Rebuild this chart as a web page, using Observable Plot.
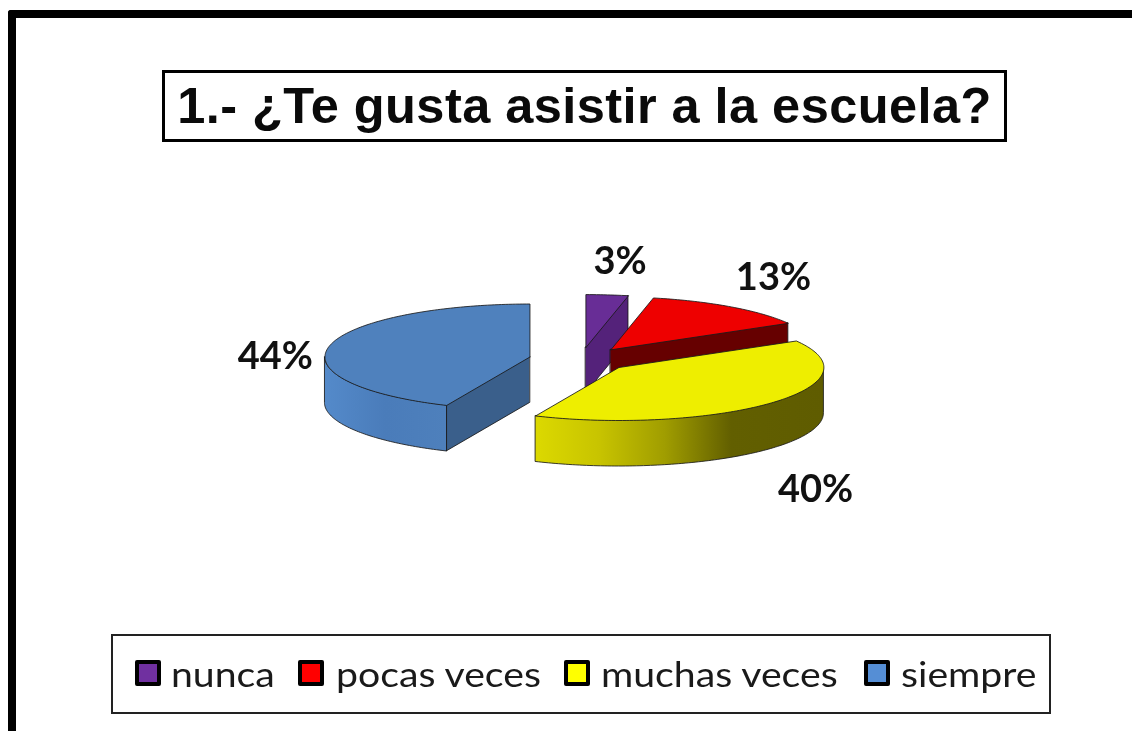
<!DOCTYPE html>
<html lang="es"><head><meta charset="utf-8">
<script src="https://cdn.jsdelivr.net/npm/d3@7"></script>
<script src="https://cdn.jsdelivr.net/npm/@observablehq/plot@0.6"></script>
<style>
html,body{margin:0;padding:0;background:#fff;width:1132px;height:731px;overflow:hidden}
#page{position:relative;width:1132px;height:731px;filter:blur(.55px)}
#frame{position:absolute;left:8px;top:10px;width:1130px;height:730px;border-left:8px solid #000;border-top:8px solid #000;border-top-left-radius:3px}
#title{position:absolute;left:162px;top:70px;width:839px;height:66px;border:3px solid #000;font:bold 50.5px "Liberation Sans",Arial,sans-serif;letter-spacing:.45px;line-height:65px;text-align:center;white-space:nowrap;color:#0a0a0a}
#legend{position:absolute;left:111px;top:634px;width:936px;height:76px;border:2px solid #222}
.sw{position:absolute;top:660px;width:18px;height:18px;border:4px solid #000;border-radius:2px}
.lb{position:absolute;top:650px;font:400 35px Lato,sans-serif;line-height:46px;color:#1a1a1a;white-space:nowrap;transform:scaleX(1.12);transform-origin:0 50%}
#chart{position:absolute;left:0;top:0}
</style></head><body>
<div id="page"><div id="frame"></div><div id="chart"></div>
<div id="title">1.- ¿Te gusta asistir a la escuela?</div><div id="legend"></div></div>
<script>
const categories = ["nunca","pocas veces","muchas veces","siempre"];
const shares = [3.33,13.33,40,43.34];
const labels = ["3%","13%","40%","44%"];
const faceColors = ["#682d96","#ee0000","#eeee00","#4f81bd"];
const legendColors = ["#7030a0","#ff0000","#ffff00","#558ed5"];
const edgeColors = ["#54227a","#660000","#6a6800","#3a5f8b"];
const labelReach = [[1.6,1.63],[1.35,1.685],[1.29,3.46],[1.27,0.05]];
const legendSwatchX = [135,298,564,864];
const legendTextX = [171,336,601,901];

const pie = {cx:580,cy:359,rx:205,ry:53,depth:46/53,ex:0.252,ey:0.226};
const slices = d3.pie().sort(null)(shares).map((s,i)=>{
  const mid=(s.startAngle+s.endAngle)/2;
  return {i,name:categories[i],a0:s.startAngle,a1:s.endAngle,mid,ox:pie.ex*Math.sin(mid),oy:pie.ey*Math.cos(mid)};
});
const arc=(s,a0,a1)=>{
  const n=Math.max(2,Math.ceil((a1-a0)/(Math.PI/180)));
  return d3.range(n+1).map(k=>{const a=a0+(a1-a0)*k/n;
    return {name:s.name,x:s.ox+Math.sin(a),y:s.oy+Math.cos(a)};});
};
const marks=[];
marks.push(()=>{
  const defs=d3.create("svg:defs");
  const grad=(id,stops)=>{const g=defs.append("linearGradient").attr("id",id);
    stops.forEach(([o,c])=>g.append("stop").attr("offset",o).attr("stop-color",c));};
  grad("wallYellow",[[0,"#dcd900"],[0.22,"#c8c400"],[0.45,"#a09d00"],[0.68,"#625f00"],[1,"#5f5c00"]]);
  grad("wallBlue",[[0,"#548aca"],[0.5,"#4a7cba"],[1,"#4e80bc"]]);
  return defs.node();
});
const outline={stroke:"#1a1a1a",strokeWidth:1,strokeOpacity:0.85};
const d=pie.depth;
for(const s of slices){
  const cx=s.ox, cy=s.oy;
  const edge = s.i===0 ? s.a1 : s.i===1 ? s.a1 : s.i===3 ? s.a0 : null;
  if(edge!==null){
    const pts=[{x:cx,y:cy},{x:cx+Math.sin(edge),y:cy+Math.cos(edge)}];
    marks.push(Plot.area(pts,{x1:"x",y1:"y",y2:p=>p.y-d,fill:edgeColors[s.i],...outline}));
  }
  const lo=Math.max(s.a0,Math.PI/2), hi=Math.min(s.a1,3*Math.PI/2);
  if(hi>lo && (s.i===2||s.i===3)){
    marks.push(Plot.area(arc(s,lo,hi),{x1:"x",y1:"y",y2:p=>p.y-d,fill:s.i===2?"url(#wallYellow)":"url(#wallBlue)",...outline}));
  }
  const face=[{name:s.name,x:cx,y:cy},...arc(s,s.a0,s.a1),{name:s.name,x:cx,y:cy}];
  marks.push(Plot.line(face,{x:"x",y:"y",fill:"name",...outline,curve:"linear",strokeLinejoin:"round"}));
}
const labelData=slices.map(s=>({label:labels[s.i],
  x:s.ox+labelReach[s.i][0]*Math.sin(s.mid),
  y:s.oy+labelReach[s.i][1]*Math.cos(s.mid)}));
marks.push(Plot.text(labelData,{x:"x",y:"y",text:"label",fontFamily:"Lato",fontWeight:700,fontSize:38,fill:"#111"}));

const chart=Plot.plot({
  width:1132,height:731,margin:0,
  style:{background:"transparent",overflow:"visible"},
  x:{domain:[-1,1],range:[pie.cx-pie.rx,pie.cx+pie.rx],axis:null},
  y:{domain:[-1,1],range:[pie.cy+pie.ry,pie.cy-pie.ry],axis:null},
  color:{domain:categories,range:faceColors},
  marks
});
document.getElementById("chart").append(chart);
const page=document.getElementById("page");
categories.forEach((c,i)=>{
  const sw=document.createElement("div");sw.className="sw";sw.style.left=legendSwatchX[i]+"px";sw.style.background=legendColors[i];page.append(sw);
  const t=document.createElement("div");t.className="lb";t.style.left=legendTextX[i]+"px";t.textContent=c;page.append(t);
});
</script></body></html>
